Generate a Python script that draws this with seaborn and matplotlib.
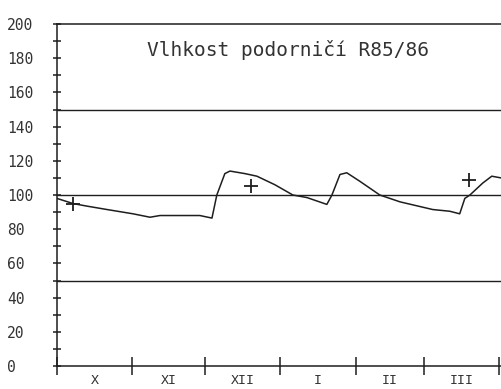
import matplotlib
matplotlib.use("Agg")
import matplotlib.pyplot as plt
import seaborn as sns
import pandas as pd

# Soil moisture record, season 1985/86 (days counted from 1 October)
days = [0, 6.6, 12.3, 20.6, 31.3, 38.3, 42.4, 58.8, 63.8, 65.8, 69.1, 71.2,
        77.4, 82.3, 89.7, 97.1, 102.9, 111.1, 113.2, 116.5, 119.3, 124.7,
        132.9, 141.2, 154.7, 161.7, 165.8, 167.9, 170.0, 175.3, 179.0, 182.8]
moisture = [98, 95, 93.5, 91.5, 89, 87, 88, 88, 86.5, 100, 112.5, 114,
            112.5, 111, 106, 100, 98.5, 94.5, 100, 112, 113, 108,
            100, 96, 91.5, 90.5, 89, 98, 100, 107, 111, 110]

# measured points (+)
meas_days = [6.6, 79.8, 169.5]
meas_values = [94.5, 105, 109]

month_edges = [0, 31, 61, 92, 123, 151, 182]
month_labels = ["X", "XI", "XII", "I", "II", "III"]
ref_levels = [50, 100, 150]

title = "Vlhkost podorničí R85/86"

sns.set_theme(style="ticks")
plt.rcParams['font.family'] = ['DejaVu Sans Mono']
ink = "#1e1e1e"

fig = plt.figure(figsize=(5.01, 3.89), dpi=100)
ax = fig.add_axes([57 / 501, 23 / 389, 444 / 501, 342 / 389])

for lev in ref_levels:
    ax.axhline(lev, color=ink, lw=1.0, zorder=1)

curve = pd.DataFrame({"day": days, "value": moisture})
sns.lineplot(data=curve, x="day", y="value", ax=ax, color=ink, lw=1.1, zorder=3)

pts = pd.DataFrame({"day": meas_days, "value": meas_values})
sns.scatterplot(data=pts, x="day", y="value", ax=ax, marker="+", s=110,
                color=ink, linewidth=1.3, zorder=4)

ax.set_xlim(0, 182.8)
ax.set_ylim(0, 200)
ax.set_xlabel("")
ax.set_ylabel("")

# y axis: ticks every 10, labels every 20 (left aligned at the page margin)
ax.set_yticks(range(0, 201, 20))
ax.set_yticks(range(10, 200, 20), minor=True)
ax.tick_params(axis="y", which="both", direction="inout", length=6,
               width=1.1, color=ink, labelsize=10.5, labelcolor="#333333", pad=33)
for lab in ax.get_yticklabels():
    lab.set_horizontalalignment("left")

# x axis: month boundaries as ticks, month names centred in between
mids = [(a + b) / 2 for a, b in zip(month_edges[:-1], month_edges[1:])]
ax.set_xticks(month_edges)
ax.set_xticklabels([""] * len(month_edges))
ax.set_xticks(mids, minor=True)
ax.set_xticklabels(month_labels, minor=True)
ax.tick_params(axis="x", which="major", direction="inout", length=13,
               width=1.1, color=ink)
ax.tick_params(axis="x", which="minor", length=0, labelsize=9.5,
               labelcolor="#333333", pad=6)

ax.spines["right"].set_visible(False)
for s in ["left", "bottom", "top"]:
    ax.spines[s].set_color(ink)
    ax.spines[s].set_linewidth(1.1)

ax.text(0.52, 0.925, title, transform=ax.transAxes, ha="center", va="center",
        fontsize=14, color="#333333")

fig.savefig("out.png", dpi=100)
